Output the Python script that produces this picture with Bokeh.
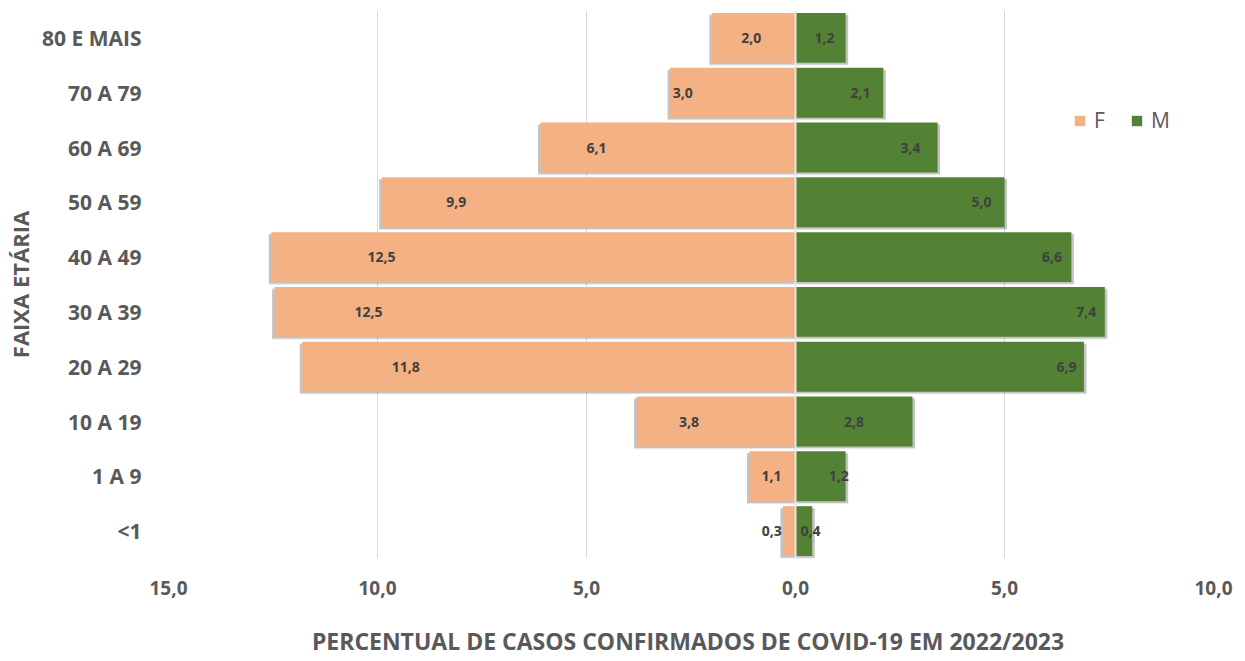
from bokeh.plotting import figure
from bokeh.models import (ColumnDataSource, FixedTicker, Legend, LegendItem, Span,
                          FactorRange)
from bokeh.transform import dodge
from bokeh.core.properties import value
from bokeh.embed import file_html
from bokeh.resources import INLINE

# ---- data ----
age_groups = ["<1", "1 A 9", "10 A 19", "20 A 29", "30 A 39",
              "40 A 49", "50 A 59", "60 A 69", "70 A 79", "80 E MAIS"]
female = [0.3, 1.1, 3.8, 11.8, 12.46, 12.54, 9.9, 6.1, 3.0, 2.0]
male = [0.4, 1.2, 2.8, 6.9, 7.4, 6.6, 5.0, 3.4, 2.1, 1.2]
x_ticks = [-15, -10, -5, 0, 5, 10]
x_tick_labels = ["15,0", "10,0", "5,0", "0,0", "5,0", "10,0"]

# label placement along each bar (fraction of bar length) - style only
label_frac_f = [1.9, 0.52, 0.67, 0.79, 0.82, 0.79, 0.82, 0.78, 0.9, 0.53]
label_frac_m = [0.9, 0.86, 0.5, 0.94, 0.94, 0.93, 0.89, 0.81, 0.74, 0.58]

FONT = "Open Sans"
F_COLOR = "#F4B183"
M_COLOR = "#548235"


def fmt(v):
    return f"{v:.1f}".replace(".", ",")


src = ColumnDataSource(dict(
    cat=age_groups,
    f_left=[-v for v in female],
    f_zero=[0.0] * len(female),
    m_right=male,
    f_shadow=[-(v + 0.06) for v in female],
    m_shadow=[v + 0.06 for v in male],
    f_lab_x=[-v * k for v, k in zip(female, label_frac_f)],
    m_lab_x=[v * k for v, k in zip(male, label_frac_m)],
    f_lab=[fmt(v) for v in female],
    m_lab=[fmt(v) for v in male],
))

p = figure(width=1245, height=661, output_backend="svg", toolbar_location=None,
           y_range=FactorRange(*age_groups), x_range=(-15, 10),
           min_border_left=168, min_border_right=32, min_border_top=10,
           min_border_bottom=103)
p.outline_line_color = None
p.background_fill_color = "white"

# shadows
for alpha, dy in [(0.18, -0.05), (0.35, -0.03)]:
    p.hbar(y=dodge("cat", dy, range=p.y_range), left="f_shadow", right="f_zero",
           height=0.91, source=src, fill_color="#7F7F7F", fill_alpha=alpha, line_color=None)
    p.hbar(y=dodge("cat", dy, range=p.y_range), left="f_zero", right="m_shadow",
           height=0.91, source=src, fill_color="#7F7F7F", fill_alpha=alpha, line_color=None)

rf = p.hbar(y="cat", left="f_left", right="f_zero", height=0.91, source=src,
            fill_color=F_COLOR, line_color=None)
rm = p.hbar(y="cat", left="f_zero", right="m_right", height=0.91, source=src,
            fill_color=M_COLOR, line_color=None)

p.add_layout(Span(location=0, dimension="height", line_color="#E6E6E6", line_width=2))

for xcol, tcol in [("f_lab_x", "f_lab"), ("m_lab_x", "m_lab")]:
    p.text(x=xcol, y="cat", text=tcol, source=src, text_align="center",
           text_baseline="middle", text_font=value(FONT), text_font_style="bold",
           text_font_size="14px", text_color="#404040")

# axes
p.xaxis.ticker = FixedTicker(ticks=x_ticks)
p.xaxis.major_label_overrides = {t: l for t, l in zip(x_ticks, x_tick_labels)}
for ax in (p.xaxis, p.yaxis):
    ax.axis_line_color = None
    ax.major_tick_line_color = None
    ax.minor_tick_line_color = None
    ax.major_label_text_font = FONT
    ax.major_label_text_font_style = "bold"
    ax.major_label_text_color = "#595959"
    ax.axis_label_text_font = FONT
    ax.axis_label_text_font_style = "bold"
    ax.axis_label_text_color = "#595959"
p.xaxis.major_label_text_font_size = "19px"
p.yaxis.major_label_text_font_size = "21px"
p.xaxis.major_label_standoff = 16
p.yaxis.major_label_standoff = 21
p.xaxis.axis_label = "PERCENTUAL  DE CASOS CONFIRMADOS DE COVID-19 EM 2022/2023"
p.xaxis.axis_label_text_font_size = "23px"
p.xaxis.axis_label_standoff = 27
p.yaxis.axis_label = "FAIXA ETÁRIA"
p.yaxis.axis_label_text_font_size = "22px"
p.yaxis.axis_label_standoff = 4

p.xgrid.grid_line_color = "#D9D9D9"
p.xgrid.grid_line_width = 1
p.ygrid.grid_line_color = None

legend = Legend(items=[LegendItem(label="F", renderers=[rf]),
                       LegendItem(label="M", renderers=[rm])],
                orientation="horizontal", location=(905, 424),
                glyph_width=13, glyph_height=13, label_standoff=8, spacing=16,
                label_text_font=FONT, label_text_font_size="21px",
                label_text_color="#595959", border_line_color=None,
                background_fill_alpha=0, padding=0, margin=0)
p.add_layout(legend)

open("out.html", "w").write(file_html(p, INLINE))
